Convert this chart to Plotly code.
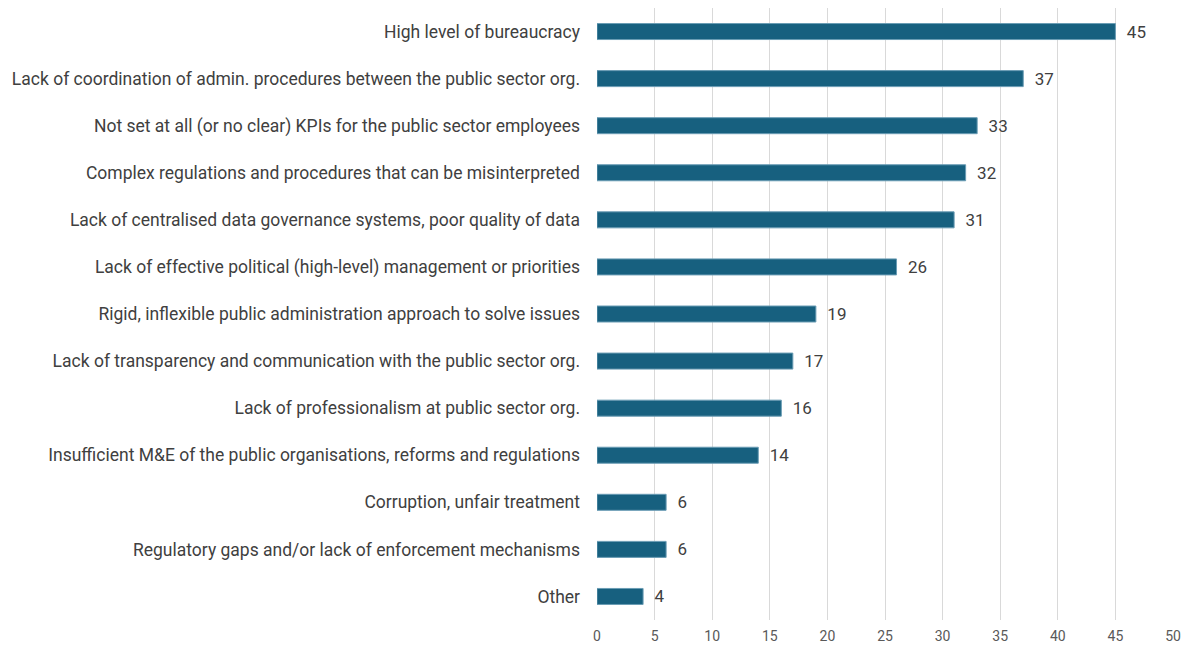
import plotly.graph_objects as go

categories = [
    "High level of bureaucracy",
    "Lack of coordination of admin. procedures between the public sector org.",
    "Not set at all (or no clear) KPIs for the public sector employees",
    "Complex regulations and procedures that can be misinterpreted",
    "Lack of centralised data governance systems, poor quality of data",
    "Lack of effective political (high-level) management or priorities",
    "Rigid, inflexible public administration approach to solve issues",
    "Lack of transparency and communication with the public sector org.",
    "Lack of professionalism at public sector org.",
    "Insufficient M&E of the public organisations, reforms and regulations",
    "Corruption, unfair treatment",
    "Regulatory gaps and/or lack of enforcement mechanisms",
    "Other",
]
values = [45, 37, 33, 32, 31, 26, 19, 17, 16, 14, 6, 6, 4]

fig = go.Figure(
    go.Bar(
        y=categories,
        x=values,
        orientation="h",
        marker=dict(color="#17607f", line=dict(color="#6a9cb4", width=1)),
        texttemplate="\u00a0\u00a0%{x}",
        textposition="outside",
        textfont=dict(family="Roboto", size=17, color="#404040"),
        cliponaxis=False,
    )
)

fig.update_layout(
    width=1182,
    height=647,
    margin=dict(l=597, r=9, t=8, b=27),
    paper_bgcolor="white",
    plot_bgcolor="white",
    bargap=0.66,
    showlegend=False,
    font=dict(family="Roboto", color="#404040"),
    uniformtext=dict(minsize=17, mode="show"),
)
fig.update_xaxes(
    range=[0, 50],
    dtick=5,
    showgrid=True,
    gridcolor="#d9d9d9",
    gridwidth=1,
    zeroline=False,
    showline=False,
    automargin=False,
    ticks="",
    ticklabelstandoff=6,
    tickfont=dict(family="Roboto", size=14, color="#595959"),
    fixedrange=True,
)
fig.update_yaxes(
    autorange="reversed",
    showgrid=False,
    showline=False,
    automargin=False,
    ticks="",
    ticklabelstandoff=16,
    tickfont=dict(family="Roboto", size=17.5, color="#404040"),
)

fig.write_html("out.html")
